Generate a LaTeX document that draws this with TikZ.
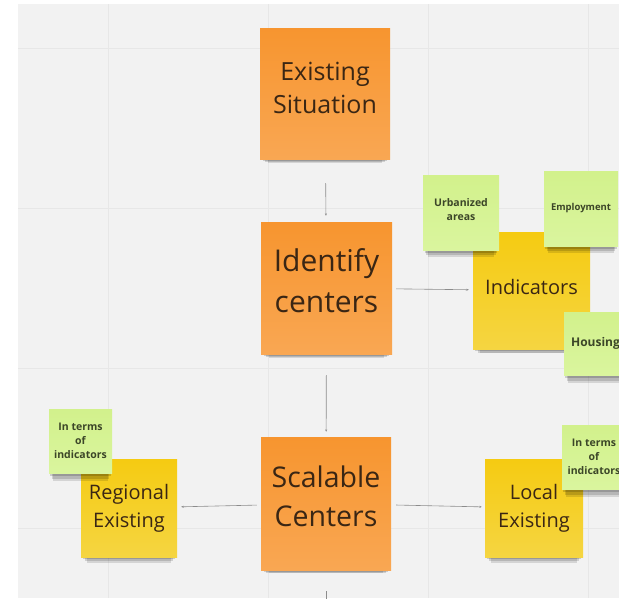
\documentclass[tikz,border=0pt]{standalone}
\usepackage{fontspec}
\setmainfont{Open Sans}
\usetikzlibrary{arrows.meta, shadows, positioning}

\definecolor{board}{HTML}{F2F2F2}
\definecolor{gridline}{HTML}{E7E7E7}
\definecolor{orangetop}{HTML}{F7952F}
\definecolor{orangebot}{HTML}{F9A753}
\definecolor{yellowtop}{HTML}{F5CB12}
\definecolor{yellowbot}{HTML}{F5D541}
\definecolor{greentop}{HTML}{D2F18C}
\definecolor{greenbot}{HTML}{DAF59E}
\definecolor{notetext}{HTML}{3A2614}
\definecolor{greentext}{HTML}{3C4628}
\definecolor{linkgray}{HTML}{8C8C8C}

\tikzset{
    note/.style={inner sep=0pt, align=center, text=notetext,
        drop shadow={shadow scale=0.88, shadow xshift=0pt, shadow yshift=-13pt, opacity=.12, fill=black},
        drop shadow={shadow scale=0.92, shadow xshift=0pt, shadow yshift=-9pt, opacity=.14, fill=black},
        drop shadow={shadow scale=0.96, shadow xshift=0pt, shadow yshift=-4.5pt, opacity=.16, fill=black}},
    orangenote/.style={note, top color=orangetop, bottom color=orangebot},
    yellownote/.style={note, top color=yellowtop, bottom color=yellowbot,
        font=\fontsize{20}{28}\selectfont},
    greennote/.style={note, top color=greentop, bottom color=greenbot, text=greentext,
        font=\bfseries\fontsize{10.5}{14}\selectfont},
    link/.style={draw=linkgray, line width=0.6pt, -{Stealth[length=2.5pt,width=2pt]}},
}

\begin{document}
\begin{tikzpicture}[x=1pt, y=-1pt]
    \useasboundingbox (0,0) rectangle (619,598);
    \clip (0,0) rectangle (619,598);
    \fill[board] (18,4) rectangle (619,598);
    \foreach \g in {108,268,428,588} {
        \draw[gridline, line width=1pt] (\g,4) -- (\g,598);
    }
    \foreach \g in {48,208,368,528} {
        \draw[gridline, line width=1pt] (18,\g) -- (619,\g);
    }

    % main column
    \node[orangenote, minimum width=130pt, minimum height=131pt, text depth=11pt, font=\fontsize{25}{33}\selectfont]
        (sit) at (325,93.5) {Existing\\Situation};
    \node[orangenote, minimum width=131pt, minimum height=132pt, text depth=15pt, font=\fontsize{30}{41}\selectfont]
        (ident) at (326.5,288) {Identify\\centers};
    \node[orangenote, minimum width=130pt, minimum height=133pt, text depth=14pt, font=\fontsize{28.5}{39}\selectfont]
        (scal) at (326,503.5) {Scalable\\Centers};
    \coordinate (next) at (326,615);

    % indicators
    \node[yellownote, minimum width=117pt, minimum height=117pt, text depth=8pt] (ind) at (531.5,290.5) {Indicators};
    \node[greennote, minimum width=76pt, minimum height=75pt, text depth=6.5pt] (urb) at (461,212.5) {Urbanized\\areas};
    \node[greennote, minimum width=74pt, minimum height=75pt, font=\bfseries\fontsize{9.5}{13}\selectfont]
        (emp) at (581,208.5) {Employment};
    \node[greennote, minimum width=63pt, minimum height=63pt, font=\bfseries\fontsize{12}{16}\selectfont]
        (hous) at (595.5,343.5) {Housing};

    % scales
    \node[yellownote, minimum width=96pt, minimum height=98pt] (reg) at (129,508) {Regional\\Existing};
    \node[greennote, minimum width=63pt, minimum height=64pt] (regind) at (80.5,441) {In terms\\of\\indicators};
    \node[yellownote, minimum width=98pt, minimum height=98pt] (loc) at (534,508) {Local\\Existing};
    \node[greennote, minimum width=64pt, minimum height=64pt] (locind) at (594,457) {In terms\\of\\indicators};

    \draw[link, shorten <=24pt, shorten >=6pt] (sit) -- (ident);
    \draw[link, shorten <=4pt, shorten >=4pt] (ident) -- (ind);
    \draw[link, shorten <=21pt, shorten >=5pt] (ident) -- (scal);
    \draw[link, shorten <=4pt, shorten >=4pt] (scal) -- (reg);
    \draw[link, shorten <=5pt, shorten >=3pt] (scal) -- (loc);
    \draw[link, -, shorten <=21pt] (scal) -- (next);
\end{tikzpicture}
\end{document}
